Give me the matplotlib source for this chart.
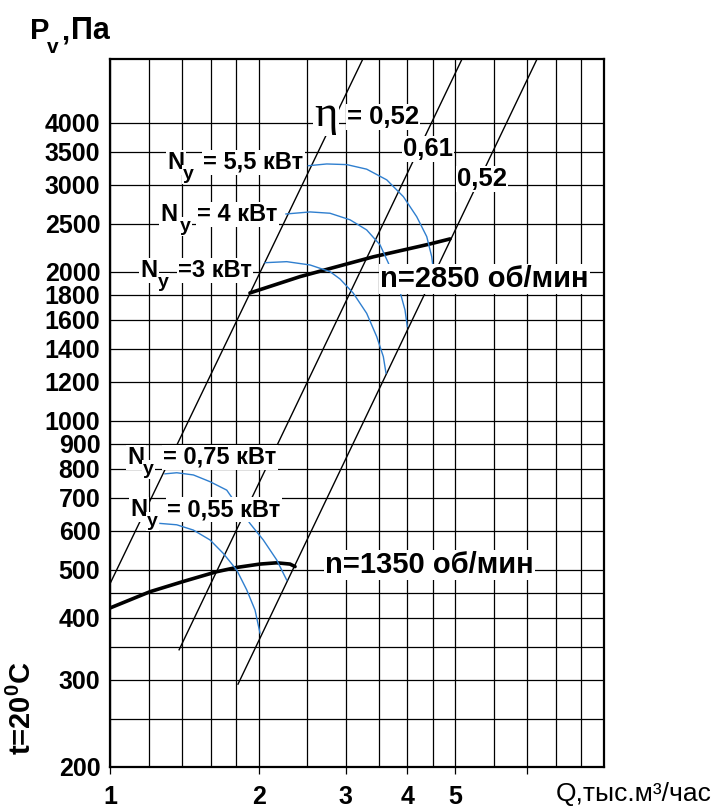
import matplotlib.pyplot as plt
import numpy as np
from matplotlib.ticker import NullFormatter

plt.rcParams['font.family'] = ['Liberation Sans', 'DejaVu Sans']
plt.rcParams['font.weight'] = 'bold'
plt.rcParams['mathtext.fontset'] = 'custom'
plt.rcParams['mathtext.rm'] = 'Liberation Sans:bold'
plt.rcParams['mathtext.it'] = 'Liberation Sans:bold'
plt.rcParams['mathtext.bf'] = 'Liberation Sans:bold'

# efficiency lines (straight on log-log), end points
eta_q = [[1.0, 3.25], [1.38, 5.16], [1.816, 7.32]]
eta_p = [[469, 5385], [345, 5385], [294, 5385]]

# fan curves
n2850_q = [1.920, 2.425, 3.407, 4.444, 4.878]
n2850_p = [1814, 1957, 2145, 2278, 2332]
n1350_q = [1.0, 1.205, 1.407, 1.644, 1.805, 2.012, 2.175, 2.314, 2.369]
n1350_p = [419, 452, 474, 496, 506, 514, 517, 514, 508]

# power arcs
p55_q = [2.520, 2.746, 3.015, 3.308, 3.633, 3.925, 4.177, 4.377, 4.480, 4.514]
p55_p = [3278, 3305, 3295, 3226, 3069, 2839, 2586, 2357, 2147, 2018]
p4_q = [2.271, 2.541, 2.788, 3.061, 3.308, 3.521, 3.659, 3.864, 3.955, 3.998]
p4_p = [2619, 2644, 2628, 2549, 2432, 2268, 2086, 1825, 1676, 1551]
p3_q = [2.060, 2.279, 2.541, 2.788, 2.921, 3.108, 3.308, 3.467, 3.575, 3.620]
p3_p = [2088, 2098, 2066, 2003, 1936, 1812, 1650, 1480, 1349, 1249]
p075_q = [1.292, 1.365, 1.475, 1.594, 1.723, 1.920, 2.043, 2.175, 2.279]
p075_p = [782, 786, 778, 754, 725, 621, 575, 524, 477]
p055_q = [1.262, 1.365, 1.475, 1.594, 1.696, 1.805, 1.891, 1.966, 2.012]
p055_p = [621, 617, 602, 575, 540, 500, 456, 415, 373]

power_text = ['= 5,5 кВт', '= 4 кВт', '=3 кВт', '= 0,75 кВт', '= 0,55 кВт']

x_ticks = [1, 2, 3, 4, 5, 7]
x_labels = ['1', '2', '3', '4', '5', '']
x_grid = [1.2, 1.4, 1.6, 1.8, 2.5, 3.5, 4.5, 6, 8, 9]
y_ticks = [200, 300, 400, 500, 600, 700, 800, 900, 1000, 1200, 1400, 1600,
           1800, 2000, 2500, 3000, 3500, 4000]
y_grid = [250, 350, 450]

W, H = 721, 808
fig = plt.figure(figsize=(W/100, H/100), dpi=100)
ax = fig.add_axes([110/W, 1-767/H, 494/W, 708/H])
ax.set_xscale('log')
ax.set_yscale('log')
ax.set_xlim(1, 10)
ax.set_ylim(200, 5385)

ax.set_xticks(x_ticks, x_labels)
ax.set_xticks(x_grid, minor=True)
ax.set_yticks(y_ticks, [str(v) for v in y_ticks])
ax.set_yticks(y_grid, minor=True)
ax.xaxis.set_minor_formatter(NullFormatter())
ax.yaxis.set_minor_formatter(NullFormatter())
ax.tick_params(axis='x', which='major', direction='out', length=5, width=0.9, pad=8, labelsize=18)
ax.tick_params(axis='y', which='major', length=0, pad=7, labelsize=18)
ax.tick_params(which='minor', length=0)
ax.grid(which='both', color='black', lw=0.9)
ax.set_axisbelow(True)
for s in ax.spines.values():
    s.set_linewidth(1.6)

arc_col = '#2f7fcf'
for q, p in zip(eta_q, eta_p):
    ax.plot(q, p, color='black', lw=1.0)
ax.plot(n2850_q, n2850_p, color='black', lw=2.6, solid_capstyle='round')
ax.plot(n1350_q, n1350_p, color='black', lw=2.6, solid_capstyle='round')
for q, p in [(p55_q, p55_p), (p4_q, p4_p), (p3_q, p3_p), (p075_q, p075_p), (p055_q, p055_p)]:
    ax.plot(q, p, color=arc_col, lw=1.0)

def px(x, y):
    return x/W, 1-y/H

box = dict(facecolor='white', edgecolor='none', pad=1)

# N_y labels: N, lowered y, rest  (pixel spots: x of N, x of y, x of rest, baseline)
spots = [(167, 183, 203, 169), (160, 180, 197, 221), (140, 158, 178, 277),
         (127, 143, 163, 464), (130, 147, 167, 516)]
for txt, (xn, xy, xr, yb) in zip(power_text, spots):
    fig.text(*px(xn, yb), 'N', fontsize=17, va='baseline', bbox=box)
    fig.text(*px(xy, yb + 10), 'y', fontsize=14, va='baseline', bbox=box)
    fig.text(*px(xr, yb), txt, fontsize=17, va='baseline', bbox=box)

labels = [
    ('= 0,52', 347, 124, 18.5),
    ('0,61', 403, 156, 18.5),
    ('0,52', 457, 186, 18.5),
    ('n=2850 об/мин', 380, 287, 21),
    ('n=1350 об/мин', 325, 573, 21),
]
for txt, x, y, fs in labels:
    fig.text(*px(x, y), txt, fontsize=fs, ha='left', va='baseline', bbox=box)
fig.text(*px(314, 126), 'η', fontsize=32, fontfamily='Liberation Serif',
         fontweight='normal', ha='left', va='baseline', bbox=box)

fig.text(*px(30, 39), 'P', fontsize=21, va='baseline')
fig.text(*px(47, 53), 'v', fontsize=15, va='baseline')
fig.text(*px(61, 39), ',', fontsize=21, va='baseline')
fig.text(*px(71, 39), 'Па', fontsize=22, va='baseline')
fig.text(*px(37, 755), 't=20$^0$C', fontsize=21, rotation=90, ha='right', va='bottom')
fig.text(*px(556, 801), 'Q,тыс.м³/час', fontsize=19, fontweight='normal',
         ha='left', va='baseline')

plt.savefig('out.png', dpi=100)
